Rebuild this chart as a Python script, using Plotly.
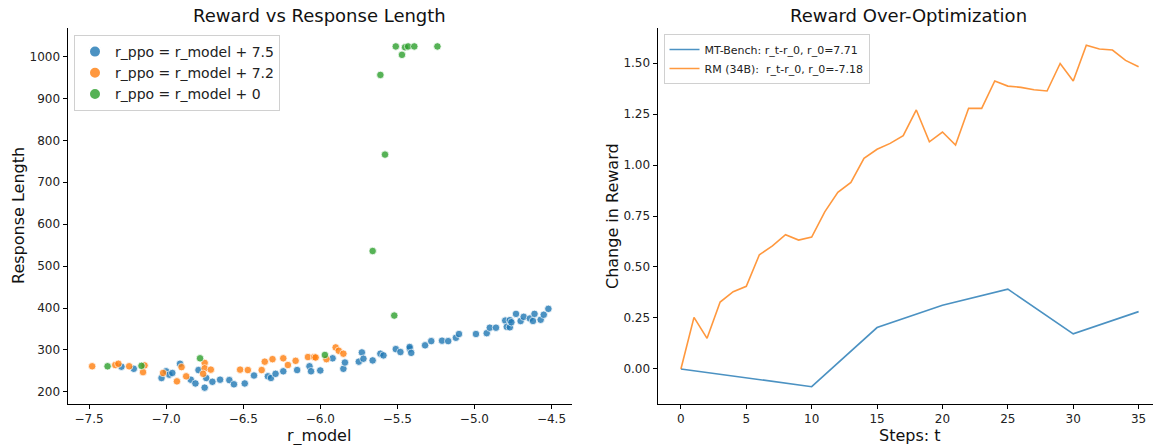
import plotly.graph_objects as go

# ---------------- data: left panel ----------------
blue_x = [-7.29, -7.21, -7.03, -7.00, -6.98, -6.96, -6.91, -6.84, -6.81, -6.79, -6.75, -6.74,
          -6.70, -6.65, -6.59, -6.56, -6.49, -6.43, -6.34, -6.32, -6.29, -6.24, -6.15, -6.07,
          -6.06, -6.00, -5.92, -5.85, -5.84, -5.75, -5.73, -5.72, -5.66, -5.61, -5.59, -5.51,
          -5.48, -5.42, -5.42, -5.41, -5.32, -5.28, -5.21, -5.17, -5.12, -5.10, -4.99, -4.92,
          -4.90, -4.86, -4.80, -4.77, -4.79, -4.77, -4.76, -4.73, -4.70, -4.68, -4.64, -4.62,
          -4.61, -4.57, -4.55, -4.52]
blue_y = [260, 255, 233, 249, 241, 245, 267, 229, 220, 252, 210, 233,
          224, 229, 228, 218, 220, 239, 237, 233, 243, 249, 252, 261,
          249, 251, 280, 255, 270, 272, 294, 279, 275, 291, 287, 302,
          295, 303, 307, 293, 311, 321, 322, 321, 329, 338, 338, 340,
          353, 353, 370, 371, 355, 354, 366, 386, 369, 379, 375, 369,
          386, 372, 384, 398]

orange_x = [-7.48, -7.33, -7.31, -7.24, -7.14, -7.15, -7.02, -6.93, -6.90, -6.87, -6.75, -6.75,
            -6.71, -6.76, -6.52, -6.47, -6.38, -6.36, -6.31, -6.24, -6.21, -6.16, -6.08, -6.04,
            -6.03, -5.96, -5.90, -5.88, -5.85]
orange_y = [261, 264, 267, 261, 263, 247, 245, 225, 259, 237, 269, 256,
            253, 243, 253, 252, 252, 272, 278, 280, 264, 274, 283, 283,
            282, 278, 306, 298, 291]

green_x = [-7.38, -7.16, -6.78, -5.97, -5.52, -5.66, -5.51, -5.45, -5.43, -5.39, -5.24,
           -5.47, -5.61, -5.58]
green_y = [261, 262, 280, 288, 382, 536, 1024, 1022, 1024, 1024, 1024,
           1004, 956, 766]

series_names = ["r_ppo = r_model + 7.5", "r_ppo = r_model + 7.2", "r_ppo = r_model + 0"]

# ---------------- data: right panel ----------------
rm_steps = list(range(36))
rm_delta = [0.000, 0.253, 0.150, 0.328, 0.379, 0.405, 0.560, 0.603, 0.658, 0.632, 0.647,
            0.770, 0.866, 0.915, 1.033, 1.077, 1.106, 1.144, 1.270, 1.114, 1.162, 1.098,
            1.278, 1.278, 1.412, 1.387, 1.381, 1.369, 1.363, 1.498, 1.412, 1.587, 1.569,
            1.564, 1.513, 1.482]
mt_steps = [0, 10, 15, 20, 25, 30, 35]
mt_delta = [0.000, -0.087, 0.203, 0.312, 0.391, 0.172, 0.281]
line_names = ["MT-Bench: r_t-r_0, r_0=7.71", "RM (34B):  r_t-r_0, r_0=-7.18"]

left_ticks = [200, 300, 400, 500, 600, 700, 800, 900, 1000]
x_left_ticks = [-7.5, -7.0, -6.5, -6.0, -5.5, -5.0, -4.5]
right_y_ticks = [0.0, 0.25, 0.5, 0.75, 1.0, 1.25, 1.5]
right_x_ticks = [0, 5, 10, 15, 20, 25, 30, 35]

BLUE, ORANGE, GREEN = "#1f77b4", "#ff7f0e", "#2ca02c"
FONT = "DejaVu Sans"
W, H = 1153, 445

fig = go.Figure()

for xs, ys, c, n in [(blue_x, blue_y, BLUE, series_names[0]),
                     (orange_x, orange_y, ORANGE, series_names[1]),
                     (green_x, green_y, GREEN, series_names[2])]:
    fig.add_trace(go.Scatter(
        x=xs, y=ys, mode="markers", name=n, xaxis="x", yaxis="y",
        marker=dict(color=c, size=7.5, opacity=0.8, line=dict(color="white", width=0.8)),
        legend="legend"))

fig.add_trace(go.Scatter(x=mt_steps, y=mt_delta, mode="lines", name=line_names[0],
                         xaxis="x2", yaxis="y2", line=dict(color=BLUE, width=1.6),
                         opacity=0.8, legend="legend2"))
fig.add_trace(go.Scatter(x=rm_steps, y=rm_delta, mode="lines", name=line_names[1],
                         xaxis="x2", yaxis="y2", line=dict(color=ORANGE, width=1.6),
                         opacity=0.8, legend="legend2"))

def px_x(p):
    return p / W

def px_y(p):
    return (H - p) / H

axis_common = dict(showgrid=False, zeroline=False, showline=True, linecolor="black",
                   linewidth=1, ticks="outside", ticklen=4, tickwidth=1, tickcolor="black",
                   tickfont=dict(family=FONT, size=12, color="#222"), mirror=False)

ydom = [px_y(404), px_y(28)]

fig.update_layout(
    width=W, height=H,
    margin=dict(l=0, r=0, t=0, b=0),
    paper_bgcolor="white", plot_bgcolor="white",
    font=dict(family=FONT, color="#222"),
    xaxis=dict(domain=[px_x(67.5), px_x(571.5)], range=[-7.64, -4.37],
               tickvals=x_left_ticks, ticktext=[("−%.1f" % abs(v)) for v in x_left_ticks],
               anchor="y", **axis_common),
    yaxis=dict(domain=ydom, range=[171, 1068], tickvals=left_ticks, anchor="x",
               **axis_common),
    xaxis2=dict(domain=[px_x(657.5), 1.0], range=[-1.79, 36.1], tickvals=right_x_ticks,
                anchor="y2", **axis_common),
    yaxis2=dict(domain=ydom, range=[-0.172, 1.672], tickvals=right_y_ticks,
                ticktext=["%.2f" % v for v in right_y_ticks], anchor="x2", **axis_common),
    legend=dict(x=px_x(74), y=px_y(35), xanchor="left", yanchor="top",
                bgcolor="rgba(255,255,255,0.8)", bordercolor="#d0d0d0", borderwidth=1,
                font=dict(family=FONT, size=14, color="#222"), itemsizing="constant"),
    legend2=dict(x=px_x(663.5), y=px_y(34), xanchor="left", yanchor="top",
                 bgcolor="rgba(255,255,255,0.8)", bordercolor="#d0d0d0", borderwidth=1,
                 font=dict(family=FONT, size=11, color="#222"), itemwidth=30,
                 tracegroupgap=0),
    showlegend=True,
)

annots = [
    dict(text="Reward vs Response Length", x=px_x(319.5), y=px_y(16), size=18),
    dict(text="Reward Over-Optimization", x=px_x(908), y=px_y(16), size=18),
    dict(text="r_model", x=px_x(319), y=px_y(435.5), size=16),
    dict(text="Steps: t", x=px_x(910), y=px_y(435.5), size=16),
]
for a in annots:
    fig.add_annotation(text=a["text"], x=a["x"], y=a["y"], xref="paper", yref="paper",
                       xanchor="center", yanchor="middle", showarrow=False,
                       font=dict(family=FONT, size=a["size"], color="#111"))
for txt, xp in [("Response Length", 18), ("Change in Reward", 612)]:
    fig.add_annotation(text=txt, x=px_x(xp), y=px_y(216), xref="paper", yref="paper",
                       xanchor="center", yanchor="middle", showarrow=False, textangle=-90,
                       font=dict(family=FONT, size=16, color="#111"))

fig.write_html("out.html", config={"displayModeBar": False},
               post_script="document.body.style.margin='0px';document.body.style.overflow='hidden';")
